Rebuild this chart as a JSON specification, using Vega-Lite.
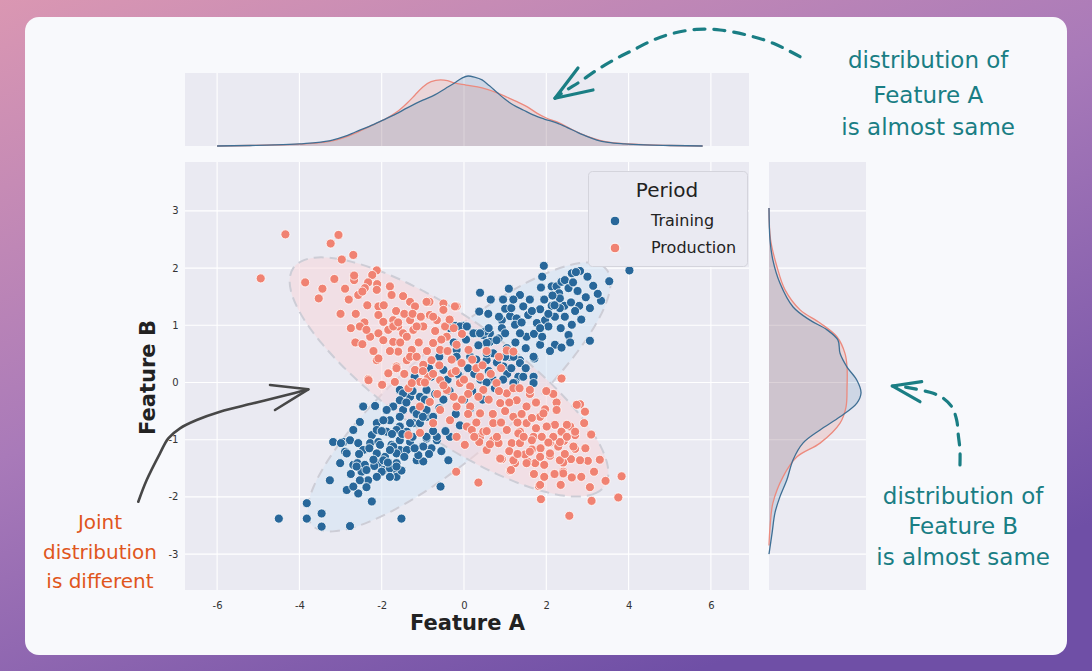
{
"$schema": "https://vega.github.io/schema/vega-lite/v6.json",
"width": 564,
"height": 428,
"autosize": {"type": "none"},
"padding": {"left": 185, "top": 162, "right": 343, "bottom": 81},
"background": "#b07fba",
"config": {"view": {"stroke": null}, "font": "DejaVu Sans", "axis": {"grid": false}},
"datasets": {
"deco": [{"k":"bg","a1":-11.6,"a2":15.6,"b1":-5.3,"b2":6.9},{"k":"card","a1":-10.668,"a2":14.654,"b1":-4.764,"b2":6.39}],
"gx": [{"v":-6},{"v":-4},{"v":-2},{"v":0},{"v":2},{"v":4},{"v":6}],
"gy": [{"v":-3},{"v":-2},{"v":-1},{"v":0},{"v":1},{"v":2},{"v":3}],
"pts": [
{"p":"Training","a":1.94,"b":2.04},{"p":"Training","a":2.82,"b":1.95},{"p":"Training","a":2.62,"b":1.91},{"p":"Training","a":2.72,"b":1.93},{"p":"Training","a":4.02,"b":1.96},{"p":"Training","a":3.53,"b":1.77},{"p":"Training","a":3.14,"b":1.69},{"p":"Training","a":3.33,"b":1.43},{"p":"Training","a":2.96,"b":1.49},{"p":"Training","a":3.06,"b":1.3},
{"p":"Training","a":0.39,"b":1.57},{"p":"Training","a":1.09,"b":1.64},{"p":"Training","a":1.36,"b":1.53},{"p":"Training","a":1.87,"b":1.66},{"p":"Training","a":2.13,"b":1.68},{"p":"Training","a":2.25,"b":1.68},{"p":"Training","a":2.37,"b":1.76},{"p":"Training","a":2.45,"b":1.79},{"p":"Training","a":2.31,"b":1.56},{"p":"Training","a":2.33,"b":1.47},
{"p":"Training","a":2.54,"b":1.65},{"p":"Training","a":2.76,"b":1.6},{"p":"Training","a":2.8,"b":1.34},{"p":"Training","a":2.44,"b":1.34},{"p":"Training","a":2.33,"b":1.3},{"p":"Training","a":2.13,"b":1.34},{"p":"Training","a":1.85,"b":1.28},{"p":"Training","a":1.44,"b":1.33},{"p":"Training","a":1.0,"b":1.29},{"p":"Training","a":0.37,"b":1.24},
{"p":"Training","a":0.59,"b":1.2},{"p":"Training","a":0.92,"b":1.09},{"p":"Training","a":1.12,"b":1.16},{"p":"Training","a":1.28,"b":1.12},{"p":"Training","a":1.56,"b":1.18},{"p":"Training","a":1.77,"b":1.04},{"p":"Training","a":1.97,"b":1.09},{"p":"Training","a":2.05,"b":0.98},{"p":"Training","a":2.21,"b":1.15},{"p":"Training","a":2.62,"b":1.01},
{"p":"Training","a":2.54,"b":0.83},{"p":"Training","a":2.58,"b":0.7},{"p":"Training","a":3.06,"b":0.73},{"p":"Training","a":2.21,"b":0.66},{"p":"Training","a":2.37,"b":0.61},{"p":"Training","a":2.09,"b":0.55},{"p":"Training","a":1.71,"b":0.42},{"p":"Training","a":1.85,"b":0.66},{"p":"Training","a":1.52,"b":0.8},{"p":"Training","a":1.36,"b":0.86},
{"p":"Training","a":1.24,"b":1.01},{"p":"Training","a":0.92,"b":0.95},{"p":"Training","a":0.84,"b":0.77},{"p":"Training","a":0.63,"b":0.86},{"p":"Training","a":0.47,"b":0.83},{"p":"Training","a":0.27,"b":0.86},{"p":"Training","a":-0.02,"b":0.99},{"p":"Training","a":-0.22,"b":0.99},{"p":"Training","a":0.63,"b":0.71},{"p":"Training","a":1.0,"b":0.86},
{"p":"Training","a":1.36,"b":0.39},{"p":"Training","a":1.12,"b":0.45},{"p":"Training","a":1.32,"b":0.1},{"p":"Training","a":1.44,"b":0.1},{"p":"Training","a":1.69,"b":0.1},{"p":"Training","a":1.24,"b":-0.01},{"p":"Training","a":0.71,"b":0.51},{"p":"Training","a":1.69,"b":0.45},{"p":"Training","a":1.2,"b":-0.01},{"p":"Training","a":1.69,"b":-0.01},
{"p":"Training","a":0.79,"b":0.74},{"p":"Training","a":0.51,"b":0.89},{"p":"Training","a":0.23,"b":0.86},{"p":"Training","a":-0.34,"b":0.95},{"p":"Training","a":-0.1,"b":0.98},{"p":"Training","a":-0.18,"b":0.57},{"p":"Training","a":0.55,"b":0.39},{"p":"Training","a":0.88,"b":0.28},{"p":"Training","a":1.04,"b":0.6},{"p":"Training","a":1.2,"b":0.45},
{"p":"Training","a":1.36,"b":0.34},{"p":"Training","a":0.55,"b":0.69},{"p":"Training","a":0.55,"b":0.51},{"p":"Training","a":0.96,"b":0.28},{"p":"Training","a":-0.18,"b":0.45},{"p":"Training","a":-0.5,"b":0.22},{"p":"Training","a":0.07,"b":0.98},{"p":"Training","a":0.39,"b":0.86},{"p":"Training","a":1.6,"b":1.45},{"p":"Training","a":1.95,"b":1.45},
{"p":"Training","a":2.15,"b":1.52},{"p":"Training","a":2.6,"b":1.4},{"p":"Training","a":2.05,"b":1.2},{"p":"Training","a":1.7,"b":0.85},{"p":"Training","a":1.9,"b":0.8},{"p":"Training","a":2.35,"b":0.95},{"p":"Training","a":1.5,"b":0.6},{"p":"Training","a":0.8,"b":0.35},{"p":"Training","a":1.05,"b":0.15},{"p":"Training","a":0.6,"b":0.2},
{"p":"Training","a":0.3,"b":0.4},{"p":"Training","a":0.1,"b":0.25},{"p":"Training","a":0.4,"b":0.05},{"p":"Training","a":-0.1,"b":0.1},{"p":"Training","a":0.2,"b":-0.15},{"p":"Training","a":0.75,"b":-0.1},{"p":"Training","a":1.5,"b":0.25},
{"p":"Training","a":-1.56,"b":-0.13},{"p":"Training","a":-1.31,"b":-0.25},{"p":"Training","a":-1.72,"b":-0.42},{"p":"Training","a":-1.48,"b":-0.48},{"p":"Training","a":-1.07,"b":-0.42},{"p":"Training","a":-0.91,"b":-0.6},{"p":"Training","a":-1.23,"b":-0.71},{"p":"Training","a":-1.56,"b":-0.77},{"p":"Training","a":-1.8,"b":-0.66},{"p":"Training","a":-2.12,"b":-0.71},
{"p":"Training","a":-2.16,"b":-0.41},{"p":"Training","a":-2.45,"b":-0.42},{"p":"Training","a":-1.88,"b":-0.86},{"p":"Training","a":-2.24,"b":-0.92},{"p":"Training","a":-2.69,"b":-0.83},{"p":"Training","a":-2.53,"b":-0.69},{"p":"Training","a":-2.93,"b":-1.04},{"p":"Training","a":-3.18,"b":-1.04},{"p":"Training","a":-2.77,"b":-1.01},{"p":"Training","a":-2.28,"b":-1.06},
{"p":"Training","a":-2.08,"b":-1.04},{"p":"Training","a":-1.76,"b":-1.09},{"p":"Training","a":-1.56,"b":-1.01},{"p":"Training","a":-1.31,"b":-1.04},{"p":"Training","a":-0.91,"b":-0.98},{"p":"Training","a":-0.66,"b":-1.01},{"p":"Training","a":-1.15,"b":-1.36},{"p":"Training","a":-0.99,"b":-1.38},{"p":"Training","a":-0.38,"b":-1.36},{"p":"Training","a":-2.89,"b":-1.21},
{"p":"Training","a":-2.69,"b":-1.44},{"p":"Training","a":-2.49,"b":-1.56},{"p":"Training","a":-2.04,"b":-1.41},{"p":"Training","a":-1.64,"b":-1.53},{"p":"Training","a":-1.96,"b":-1.53},{"p":"Training","a":-2.33,"b":-1.71},{"p":"Training","a":-2.57,"b":-1.94},{"p":"Training","a":-2.85,"b":-1.88},{"p":"Training","a":-3.26,"b":-1.71},{"p":"Training","a":-2.24,"b":-2.08},
{"p":"Training","a":-1.52,"b":-2.38},{"p":"Training","a":-3.82,"b":-2.11},{"p":"Training","a":-3.46,"b":-2.29},{"p":"Training","a":-3.82,"b":-2.38},{"p":"Training","a":-3.46,"b":-2.52},{"p":"Training","a":-2.77,"b":-2.51},{"p":"Training","a":-0.57,"b":-1.82},{"p":"Training","a":-0.34,"b":-0.95},{"p":"Training","a":-2.99,"b":-1.06},{"p":"Training","a":-2.57,"b":-1.06},
{"p":"Training","a":-2.37,"b":-1.83},{"p":"Training","a":-2.75,"b":-1.6},{"p":"Training","a":-2.59,"b":-1.41},{"p":"Training","a":-2.41,"b":-1.44},{"p":"Training","a":-2.18,"b":-1.46},{"p":"Training","a":-2.0,"b":-1.56},{"p":"Training","a":-1.8,"b":-1.5},{"p":"Training","a":-1.64,"b":-1.65},{"p":"Training","a":-1.52,"b":-1.54},{"p":"Training","a":-1.92,"b":-1.3},
{"p":"Training","a":-1.64,"b":-1.41},{"p":"Training","a":-1.56,"b":-1.18},{"p":"Training","a":-1.72,"b":-1.12},{"p":"Training","a":-1.11,"b":-1.27},{"p":"Training","a":-0.79,"b":-1.15},{"p":"Training","a":-4.5,"b":-2.38},{"p":"Training","a":-2.12,"b":-0.83},{"p":"Training","a":-2.04,"b":-1.09},{"p":"Training","a":-1.39,"b":-0.86},{"p":"Training","a":-0.91,"b":-0.13},
{"p":"Training","a":-1.07,"b":-0.25},{"p":"Training","a":-1.48,"b":-0.19},{"p":"Training","a":-1.56,"b":-0.31},{"p":"Training","a":-1.23,"b":-0.48},{"p":"Training","a":-0.91,"b":-0.48},{"p":"Training","a":-0.75,"b":-0.6},{"p":"Training","a":-1.56,"b":-0.6},{"p":"Training","a":-1.88,"b":-0.48},{"p":"Training","a":-1.96,"b":-0.66},{"p":"Training","a":-1.64,"b":-0.83},
{"p":"Training","a":-1.31,"b":-0.71},{"p":"Training","a":-1.07,"b":-0.71},{"p":"Training","a":-0.91,"b":-0.95},{"p":"Training","a":-0.66,"b":-0.95},{"p":"Training","a":-0.99,"b":-1.12},{"p":"Training","a":-1.39,"b":-1.18},{"p":"Training","a":-1.64,"b":-1.24},{"p":"Training","a":-1.8,"b":-1.18},{"p":"Training","a":-2.12,"b":-1.24},{"p":"Training","a":-2.45,"b":-1.18},
{"p":"Training","a":-2.37,"b":-1.53},{"p":"Training","a":-2.12,"b":-1.65},{"p":"Training","a":-1.8,"b":-1.65},{"p":"Training","a":-1.64,"b":-1.47},{"p":"Training","a":-1.96,"b":-1.36},{"p":"Training","a":-2.61,"b":-1.47},{"p":"Training","a":-2.53,"b":-1.71},{"p":"Training","a":-2.69,"b":-1.82},{"p":"Training","a":-3.01,"b":-1.41},{"p":"Training","a":-2.85,"b":-1.24},
{"p":"Training","a":-0.5,"b":-0.3},{"p":"Training","a":-0.2,"b":-0.55},{"p":"Training","a":-0.7,"b":-0.2},{"p":"Training","a":0.0,"b":-0.3},{"p":"Training","a":-0.4,"b":0.05},{"p":"Training","a":-0.8,"b":0.1},{"p":"Training","a":-1.2,"b":0.1},
{"p":"Training","a":-1.4,"b":-0.35},{"p":"Training","a":-1.15,"b":-0.55},{"p":"Training","a":-0.95,"b":-0.3},{"p":"Training","a":-0.6,"b":-0.45},{"p":"Training","a":-0.35,"b":-0.15},{"p":"Training","a":-0.15,"b":0.15},{"p":"Training","a":0.15,"b":0.45},{"p":"Training","a":0.35,"b":0.65},{"p":"Training","a":0.6,"b":0.95},{"p":"Training","a":0.85,"b":1.15},
{"p":"Training","a":1.15,"b":1.3},{"p":"Training","a":1.4,"b":1.05},{"p":"Training","a":1.65,"b":1.25},{"p":"Training","a":1.85,"b":0.95},{"p":"Training","a":2.2,"b":1.35},{"p":"Training","a":2.45,"b":1.15},{"p":"Training","a":2.7,"b":1.25},{"p":"Training","a":1.25,"b":0.7},{"p":"Training","a":1.0,"b":0.45},{"p":"Training","a":0.7,"b":0.05},
{"p":"Training","a":0.45,"b":-0.3},{"p":"Training","a":0.15,"b":-0.45},{"p":"Training","a":-0.1,"b":-0.75},{"p":"Training","a":-0.45,"b":-0.85},{"p":"Training","a":-0.75,"b":-0.85},{"p":"Training","a":-1.0,"b":-0.6},{"p":"Training","a":-1.25,"b":-0.95},{"p":"Training","a":-1.5,"b":-0.9},{"p":"Training","a":-1.75,"b":-0.9},{"p":"Training","a":-2.0,"b":-0.85},
{"p":"Training","a":-2.3,"b":-1.15},{"p":"Training","a":-2.55,"b":-1.25},{"p":"Training","a":-1.45,"b":-1.3},{"p":"Training","a":-1.2,"b":-1.15},{"p":"Training","a":-0.85,"b":-1.25},{"p":"Training","a":-0.55,"b":-1.2},{"p":"Training","a":-2.2,"b":-1.35},{"p":"Training","a":-1.85,"b":-1.4},{"p":"Training","a":-0.25,"b":0.7},{"p":"Training","a":0.05,"b":0.75},
{"p":"Training","a":1.9,"b":1.85},{"p":"Training","a":2.65,"b":1.75},{"p":"Training","a":3.0,"b":1.85},{"p":"Training","a":3.25,"b":1.55},{"p":"Training","a":2.85,"b":1.1},{"p":"Training","a":0.95,"b":1.45},{"p":"Training","a":0.65,"b":1.45},{"p":"Training","a":1.2,"b":1.45},{"p":"Training","a":-0.6,"b":0.45},{"p":"Training","a":-0.85,"b":0.25},
{"p":"Training","a":-1.25,"b":-0.15},{"p":"Training","a":0.25,"b":0.15},{"p":"Training","a":0.55,"b":0.0},{"p":"Training","a":0.95,"b":0.05},{"p":"Training","a":1.15,"b":0.25},
{"p":"Production","a":-4.34,"b":2.59},{"p":"Production","a":-4.94,"b":1.82},{"p":"Production","a":-3.05,"b":2.58},{"p":"Production","a":-3.24,"b":2.43},{"p":"Production","a":-2.97,"b":2.15},{"p":"Production","a":-2.69,"b":2.23},{"p":"Production","a":-3.86,"b":1.75},{"p":"Production","a":-3.44,"b":1.64},{"p":"Production","a":-3.53,"b":1.47},{"p":"Production","a":-3.15,"b":1.81},
{"p":"Production","a":-2.89,"b":1.64},{"p":"Production","a":-2.67,"b":1.79},{"p":"Production","a":-2.67,"b":1.87},{"p":"Production","a":-2.12,"b":1.96},{"p":"Production","a":-2.23,"b":1.88},{"p":"Production","a":-2.33,"b":1.75},{"p":"Production","a":-2.11,"b":1.72},{"p":"Production","a":-2.41,"b":1.65},{"p":"Production","a":-2.57,"b":1.53},{"p":"Production","a":-2.47,"b":1.59},
{"p":"Production","a":-2.12,"b":1.62},{"p":"Production","a":-1.8,"b":1.68},{"p":"Production","a":-1.76,"b":1.53},{"p":"Production","a":-1.48,"b":1.51},{"p":"Production","a":-1.31,"b":1.41},{"p":"Production","a":-0.84,"b":1.41},{"p":"Production","a":-0.5,"b":1.38},{"p":"Production","a":-2.08,"b":1.33},{"p":"Production","a":-2.63,"b":1.2},{"p":"Production","a":-2.42,"b":1.05},
{"p":"Production","a":-2.53,"b":0.98},{"p":"Production","a":-2.08,"b":1.18},{"p":"Production","a":-1.96,"b":1.06},{"p":"Production","a":-1.84,"b":0.92},{"p":"Production","a":-2.28,"b":0.8},{"p":"Production","a":-2.64,"b":0.7},{"p":"Production","a":-2.47,"b":0.67},{"p":"Production","a":-2.08,"b":0.86},{"p":"Production","a":-1.72,"b":1.09},{"p":"Production","a":-1.6,"b":0.98},
{"p":"Production","a":-1.31,"b":1.09},{"p":"Production","a":-1.19,"b":1.33},{"p":"Production","a":-0.83,"b":1.18},{"p":"Production","a":-0.66,"b":1.09},{"p":"Production","a":-0.46,"b":0.98},{"p":"Production","a":-0.99,"b":0.98},{"p":"Production","a":-1.23,"b":0.92},{"p":"Production","a":-1.48,"b":0.86},{"p":"Production","a":-1.72,"b":0.71},{"p":"Production","a":-1.96,"b":0.74},
{"p":"Production","a":-1.6,"b":0.54},{"p":"Production","a":-1.27,"b":0.57},{"p":"Production","a":-1.39,"b":0.39},{"p":"Production","a":-2.12,"b":0.39},{"p":"Production","a":-1.84,"b":0.16},{"p":"Production","a":-1.64,"b":0.28},{"p":"Production","a":-2.33,"b":0.06},{"p":"Production","a":-2.0,"b":-0.04},{"p":"Production","a":-1.68,"b":0.01},{"p":"Production","a":-1.35,"b":-0.1},
{"p":"Production","a":-0.91,"b":1.41},{"p":"Production","a":-0.18,"b":1.33},{"p":"Production","a":-0.75,"b":1.15},{"p":"Production","a":-0.5,"b":1.27},{"p":"Production","a":-1.15,"b":0.98},{"p":"Production","a":-1.39,"b":0.8},{"p":"Production","a":-1.72,"b":0.98},{"p":"Production","a":-2.37,"b":0.92},{"p":"Production","a":-2.08,"b":0.42},{"p":"Production","a":-1.64,"b":0.25},
{"p":"Production","a":-1.31,"b":0.45},{"p":"Production","a":-1.19,"b":0.22},{"p":"Production","a":-0.99,"b":0.31},{"p":"Production","a":-0.79,"b":0.39},{"p":"Production","a":-0.58,"b":0.57},{"p":"Production","a":-0.75,"b":0.69},{"p":"Production","a":-0.42,"b":0.8},{"p":"Production","a":-0.18,"b":0.66},{"p":"Production","a":0.11,"b":0.57},{"p":"Production","a":-0.06,"b":0.34},
{"p":"Production","a":-0.3,"b":0.16},{"p":"Production","a":-0.58,"b":0.04},{"p":"Production","a":-0.87,"b":0.1},{"p":"Production","a":-1.07,"b":0.01},{"p":"Production","a":-1.27,"b":-0.01},{"p":"Production","a":-0.42,"b":-0.13},{"p":"Production","a":-0.1,"b":-0.01},{"p":"Production","a":0.15,"b":-0.07},{"p":"Production","a":0.39,"b":0.1},{"p":"Production","a":0.47,"b":-0.13},
{"p":"Production","a":0.79,"b":-0.01},{"p":"Production","a":1.04,"b":-0.19},{"p":"Production","a":0.88,"b":-0.36},{"p":"Production","a":1.28,"b":-0.31},{"p":"Production","a":1.52,"b":-0.42},{"p":"Production","a":1.2,"b":-0.6},{"p":"Production","a":1.52,"b":-0.71},{"p":"Production","a":1.85,"b":-0.6},{"p":"Production","a":1.04,"b":-0.83},{"p":"Production","a":0.71,"b":-0.71},
{"p":"Production","a":0.39,"b":-0.54},{"p":"Production","a":0.15,"b":-0.42},{"p":"Production","a":-0.18,"b":-0.42},{"p":"Production","a":-0.34,"b":-0.66},{"p":"Production","a":0.07,"b":-0.77},{"p":"Production","a":0.39,"b":-0.95},{"p":"Production","a":0.71,"b":-1.01},{"p":"Production","a":1.36,"b":-0.86},{"p":"Production","a":1.69,"b":-0.95},{"p":"Production","a":-0.58,"b":-0.48},
{"p":"Production","a":-0.83,"b":-0.34},{"p":"Production","a":-1.07,"b":-0.42},{"p":"Production","a":-1.35,"b":-0.92},{"p":"Production","a":-1.07,"b":-0.88},{"p":"Production","a":-0.75,"b":-0.71},{"p":"Production","a":0.55,"b":-1.18},{"p":"Production","a":0.02,"b":-1.09},{"p":"Production","a":2.82,"b":-0.38},{"p":"Production","a":2.94,"b":-0.51},{"p":"Production","a":2.92,"b":-0.71},
{"p":"Production","a":3.09,"b":-0.91},{"p":"Production","a":2.25,"b":-0.35},{"p":"Production","a":1.97,"b":-0.47},{"p":"Production","a":2.21,"b":-0.74},{"p":"Production","a":2.58,"b":-0.77},{"p":"Production","a":2.7,"b":-0.92},{"p":"Production","a":2.37,"b":-0.86},{"p":"Production","a":2.43,"b":-1.02},{"p":"Production","a":2.7,"b":-1.16},{"p":"Production","a":2.6,"b":-1.34},
{"p":"Production","a":2.41,"b":-1.4},{"p":"Production","a":3.01,"b":-1.37},{"p":"Production","a":3.16,"b":-1.56},{"p":"Production","a":3.44,"b":-1.72},{"p":"Production","a":3.83,"b":-1.64},{"p":"Production","a":3.75,"b":-2.01},{"p":"Production","a":3.1,"b":-2.07},{"p":"Production","a":3.06,"b":-1.83},{"p":"Production","a":2.62,"b":-1.66},{"p":"Production","a":2.35,"b":-1.79},
{"p":"Production","a":2.41,"b":-1.56},{"p":"Production","a":2.56,"b":-2.33},{"p":"Production","a":1.87,"b":-2.04},{"p":"Production","a":1.82,"b":-1.81},{"p":"Production","a":2.09,"b":-1.28},{"p":"Production","a":1.95,"b":-1.44},{"p":"Production","a":1.73,"b":-1.41},{"p":"Production","a":1.54,"b":-1.38},{"p":"Production","a":1.48,"b":-1.26},{"p":"Production","a":1.65,"b":-1.17},
{"p":"Production","a":1.86,"b":-1.15},{"p":"Production","a":2.09,"b":-1.05},{"p":"Production","a":2.29,"b":-1.12},{"p":"Production","a":1.24,"b":-1.41},{"p":"Production","a":1.12,"b":-1.54},{"p":"Production","a":0.92,"b":-1.34},{"p":"Production","a":0.35,"b":-1.75},{"p":"Production","a":-0.19,"b":-1.56},{"p":"Production","a":0.84,"b":-1.06},{"p":"Production","a":0.63,"b":-1.08},
{"p":"Production","a":0.37,"b":-1.04},{"p":"Production","a":-0.18,"b":-0.95},{"p":"Production","a":0.19,"b":-0.83},{"p":"Production","a":0.47,"b":-0.86},{"p":"Production","a":1.32,"b":-0.89},{"p":"Production","a":1.65,"b":-1.01},{"p":"Production","a":1.16,"b":-1.06},{"p":"Production","a":1.36,"b":-1.06},{"p":"Production","a":1.89,"b":-0.95},{"p":"Production","a":2.37,"b":0.07},
{"p":"Production","a":2.17,"b":-0.2},{"p":"Production","a":2.74,"b":-0.39},{"p":"Production","a":0.88,"b":-1.33},{"p":"Production","a":1.14,"b":-1.53},{"p":"Production","a":1.85,"b":-1.79},{"p":"Production","a":2.82,"b":-1.36},{"p":"Production","a":2.33,"b":-1.36},{"p":"Production","a":2.41,"b":-1.59},{"p":"Production","a":2.09,"b":-1.24},{"p":"Production","a":1.85,"b":-1.3},
{"p":"Production","a":1.6,"b":-1.21},{"p":"Production","a":1.52,"b":-1.41},{"p":"Production","a":1.2,"b":-1.36},{"p":"Production","a":2.7,"b":-0.86},{"p":"Production","a":2.5,"b":-0.95},{"p":"Production","a":2.66,"b":-1.12},{"p":"Production","a":2.33,"b":-1.04},{"p":"Production","a":2.17,"b":-0.95},{"p":"Production","a":2.01,"b":-0.77},{"p":"Production","a":1.93,"b":-0.54},
{"p":"Production","a":2.25,"b":-0.48},{"p":"Production","a":2.5,"b":-0.74},{"p":"Production","a":0.6,"b":-0.3},{"p":"Production","a":1.0,"b":-0.5},{"p":"Production","a":1.4,"b":-0.55},{"p":"Production","a":0.3,"b":-0.7},{"p":"Production","a":0.9,"b":-0.7},{"p":"Production","a":1.6,"b":-0.2},{"p":"Production","a":1.2,"b":-0.1},{"p":"Production","a":0.7,"b":-0.55},
{"p":"Production","a":0.1,"b":-0.2},{"p":"Production","a":-0.3,"b":0.4},{"p":"Production","a":-0.6,"b":0.3},{"p":"Production","a":-0.4,"b":0.55},{"p":"Production","a":-0.9,"b":0.55},{"p":"Production","a":-0.2,"b":0.2},{"p":"Production","a":0.3,"b":0.25},{"p":"Production","a":-1.1,"b":0.7},{"p":"Production","a":-0.7,"b":0.9},{"p":"Production","a":-1.0,"b":0.2},
{"p":"Production","a":1.65,"b":-0.62},{"p":"Production","a":-0.22,"b":1.33},{"p":"Production","a":1.04,"b":0.56},{"p":"Production","a":1.2,"b":0.54},{"p":"Production","a":1.6,"b":-0.13},{"p":"Production","a":-2.32,"b":0.04},{"p":"Production","a":-1.99,"b":-0.04},
{"p":"Production","a":-1.95,"b":1.35},{"p":"Production","a":-1.65,"b":1.25},{"p":"Production","a":-1.45,"b":1.2},{"p":"Production","a":-1.25,"b":1.2},{"p":"Production","a":-1.05,"b":1.15},{"p":"Production","a":-1.55,"b":0.7},{"p":"Production","a":-1.8,"b":0.55},{"p":"Production","a":-2.2,"b":0.55},{"p":"Production","a":-2.35,"b":1.35},{"p":"Production","a":-2.8,"b":1.45},
{"p":"Production","a":-3.0,"b":1.2},{"p":"Production","a":-2.75,"b":0.95},{"p":"Production","a":-0.55,"b":0.75},{"p":"Production","a":-0.25,"b":0.95},{"p":"Production","a":-0.05,"b":0.85},{"p":"Production","a":0.2,"b":0.4},{"p":"Production","a":0.45,"b":0.3},{"p":"Production","a":0.65,"b":0.15},{"p":"Production","a":0.9,"b":0.25},{"p":"Production","a":1.1,"b":-0.35},
{"p":"Production","a":1.35,"b":-0.1},{"p":"Production","a":1.75,"b":-0.35},{"p":"Production","a":2.0,"b":-0.15},{"p":"Production","a":2.05,"b":-1.05},{"p":"Production","a":1.75,"b":-0.8},{"p":"Production","a":1.45,"b":-0.95},{"p":"Production","a":1.1,"b":-1.2},{"p":"Production","a":0.8,"b":-0.95},{"p":"Production","a":0.55,"b":-0.85},{"p":"Production","a":0.25,"b":-0.95},
{"p":"Production","a":0.1,"b":-0.55},{"p":"Production","a":-0.05,"b":-0.3},{"p":"Production","a":-0.25,"b":-0.25},{"p":"Production","a":-0.5,"b":-0.05},{"p":"Production","a":-0.75,"b":0.15},{"p":"Production","a":-0.95,"b":0.0},{"p":"Production","a":-1.15,"b":0.45},{"p":"Production","a":-1.45,"b":0.15},{"p":"Production","a":-0.35,"b":1.1},{"p":"Production","a":-1.6,"b":1.05},
{"p":"Production","a":0.55,"b":0.55},{"p":"Production","a":0.85,"b":0.45},{"p":"Production","a":2.85,"b":-1.65},{"p":"Production","a":3.3,"b":-1.35},{"p":"Production","a":2.95,"b":-1.15},{"p":"Production","a":2.2,"b":-1.6},{"p":"Production","a":1.95,"b":-1.65},{"p":"Production","a":1.7,"b":-1.6},{"p":"Production","a":1.3,"b":-1.25},{"p":"Production","a":2.45,"b":-1.25},
{"p":"Production","a":-0.65,"b":-0.2},{"p":"Production","a":0.35,"b":-0.25},{"p":"Production","a":0.85,"b":-0.15},{"p":"Production","a":1.3,"b":-0.7},{"p":"Production","a":0.0,"b":0.05}
],
"ell": [
{"p":"Training","i":0,"a":3.456,"b":1.983},{"p":"Training","i":1,"a":3.553,"b":1.823},{"p":"Training","i":2,"a":3.54,"b":1.6},{"p":"Training","i":3,"a":3.415,"b":1.32},{"p":"Training","i":4,"a":3.182,"b":0.993},{"p":"Training","i":5,"a":2.85,"b":0.628},{"p":"Training","i":6,"a":2.427,"b":0.236},{"p":"Training","i":7,"a":1.926,"b":-0.171},{"p":"Training","i":8,"a":1.363,"b":-0.58},{"p":"Training","i":9,"a":0.756,"b":-0.979},
{"p":"Training","i":10,"a":0.121,"b":-1.356},{"p":"Training","i":11,"a":-0.521,"b":-1.7},{"p":"Training","i":12,"a":-1.151,"b":-2.0},{"p":"Training","i":13,"a":-1.749,"b":-2.247},{"p":"Training","i":14,"a":-2.298,"b":-2.433},{"p":"Training","i":15,"a":-2.781,"b":-2.553},{"p":"Training","i":16,"a":-3.183,"b":-2.603},{"p":"Training","i":17,"a":-3.492,"b":-2.581},{"p":"Training","i":18,"a":-3.699,"b":-2.49},{"p":"Training","i":19,"a":-3.796,"b":-2.33},
{"p":"Training","i":20,"a":-3.783,"b":-2.107},{"p":"Training","i":21,"a":-3.658,"b":-1.827},{"p":"Training","i":22,"a":-3.425,"b":-1.5},{"p":"Training","i":23,"a":-3.093,"b":-1.135},{"p":"Training","i":24,"a":-2.67,"b":-0.743},{"p":"Training","i":25,"a":-2.169,"b":-0.336},{"p":"Training","i":26,"a":-1.606,"b":0.073},{"p":"Training","i":27,"a":-0.999,"b":0.472},{"p":"Training","i":28,"a":-0.364,"b":0.849},{"p":"Training","i":29,"a":0.278,"b":1.193},
{"p":"Training","i":30,"a":0.908,"b":1.493},{"p":"Training","i":31,"a":1.506,"b":1.74},{"p":"Training","i":32,"a":2.055,"b":1.926},{"p":"Training","i":33,"a":2.538,"b":2.046},{"p":"Training","i":34,"a":2.94,"b":2.096},{"p":"Training","i":35,"a":3.249,"b":2.074},
{"p":"Production","i":0,"a":3.417,"b":-1.811},{"p":"Production","i":1,"a":3.214,"b":-1.931},{"p":"Production","i":2,"a":2.903,"b":-1.989},{"p":"Production","i":3,"a":2.492,"b":-1.985},{"p":"Production","i":4,"a":1.994,"b":-1.916},{"p":"Production","i":5,"a":1.426,"b":-1.787},{"p":"Production","i":6,"a":0.802,"b":-1.601},{"p":"Production","i":7,"a":0.143,"b":-1.363},{"p":"Production","i":8,"a":-0.531,"b":-1.08},{"p":"Production","i":9,"a":-1.201,"b":-0.762},
{"p":"Production","i":10,"a":-1.844,"b":-0.418},{"p":"Production","i":11,"a":-2.443,"b":-0.058},{"p":"Production","i":12,"a":-2.979,"b":0.306},{"p":"Production","i":13,"a":-3.435,"b":0.665},{"p":"Production","i":14,"a":-3.798,"b":1.005},{"p":"Production","i":15,"a":-4.057,"b":1.319},{"p":"Production","i":16,"a":-4.204,"b":1.595},{"p":"Production","i":17,"a":-4.233,"b":1.825},{"p":"Production","i":18,"a":-4.146,"b":2.003},{"p":"Production","i":19,"a":-3.943,"b":2.123},
{"p":"Production","i":20,"a":-3.632,"b":2.182},{"p":"Production","i":21,"a":-3.221,"b":2.177},{"p":"Production","i":22,"a":-2.723,"b":2.109},{"p":"Production","i":23,"a":-2.155,"b":1.98},{"p":"Production","i":24,"a":-1.531,"b":1.793},{"p":"Production","i":25,"a":-0.872,"b":1.555},{"p":"Production","i":26,"a":-0.198,"b":1.273},{"p":"Production","i":27,"a":0.472,"b":0.955},{"p":"Production","i":28,"a":1.115,"b":0.61},{"p":"Production","i":29,"a":1.714,"b":0.25},
{"p":"Production","i":30,"a":2.25,"b":-0.114},{"p":"Production","i":31,"a":2.706,"b":-0.472},{"p":"Production","i":32,"a":3.069,"b":-0.813},{"p":"Production","i":33,"a":3.328,"b":-1.126},{"p":"Production","i":34,"a":3.475,"b":-1.402},{"p":"Production","i":35,"a":3.504,"b":-1.633}
],
"kdeA": [
{"p":"Training","a":-6.0,"d":0.0},{"p":"Training","a":-5.2,"d":0.002},{"p":"Training","a":-4.6,"d":0.004},{"p":"Training","a":-4.0,"d":0.008},{"p":"Training","a":-3.6,"d":0.013},{"p":"Training","a":-3.2,"d":0.023},{"p":"Training","a":-2.9,"d":0.037},{"p":"Training","a":-2.64,"d":0.054},{"p":"Training","a":-2.3,"d":0.076},{"p":"Training","a":-1.97,"d":0.1},
{"p":"Training","a":-1.65,"d":0.124},{"p":"Training","a":-1.38,"d":0.147},{"p":"Training","a":-1.0,"d":0.177},{"p":"Training","a":-0.71,"d":0.197},{"p":"Training","a":-0.45,"d":0.222},{"p":"Training","a":-0.23,"d":0.243},{"p":"Training","a":-0.05,"d":0.262},{"p":"Training","a":0.1,"d":0.27},{"p":"Training","a":0.25,"d":0.266},{"p":"Training","a":0.44,"d":0.255},
{"p":"Training","a":0.62,"d":0.232},{"p":"Training","a":0.82,"d":0.204},{"p":"Training","a":1.0,"d":0.18},{"p":"Training","a":1.2,"d":0.158},{"p":"Training","a":1.45,"d":0.138},{"p":"Training","a":1.68,"d":0.12},{"p":"Training","a":1.95,"d":0.104},{"p":"Training","a":2.25,"d":0.089},{"p":"Training","a":2.5,"d":0.072},{"p":"Training","a":2.74,"d":0.054},
{"p":"Training","a":3.0,"d":0.036},{"p":"Training","a":3.23,"d":0.023},{"p":"Training","a":3.5,"d":0.014},{"p":"Training","a":3.9,"d":0.008},{"p":"Training","a":4.4,"d":0.004},{"p":"Training","a":5.0,"d":0.002},{"p":"Training","a":5.8,"d":0.0},
{"p":"Production","a":-6.0,"d":0.0},{"p":"Production","a":-5.2,"d":0.002},{"p":"Production","a":-4.6,"d":0.004},{"p":"Production","a":-4.0,"d":0.007},{"p":"Production","a":-3.5,"d":0.013},{"p":"Production","a":-3.1,"d":0.024},{"p":"Production","a":-2.7,"d":0.046},{"p":"Production","a":-2.3,"d":0.075},{"p":"Production","a":-1.87,"d":0.108},{"p":"Production","a":-1.6,"d":0.135},
{"p":"Production","a":-1.38,"d":0.166},{"p":"Production","a":-1.2,"d":0.195},{"p":"Production","a":-1.0,"d":0.228},{"p":"Production","a":-0.8,"d":0.248},{"p":"Production","a":-0.57,"d":0.255},{"p":"Production","a":-0.4,"d":0.252},{"p":"Production","a":-0.24,"d":0.243},{"p":"Production","a":0.05,"d":0.235},{"p":"Production","a":0.44,"d":0.224},{"p":"Production","a":0.82,"d":0.204},
{"p":"Production","a":1.05,"d":0.188},{"p":"Production","a":1.3,"d":0.17},{"p":"Production","a":1.55,"d":0.15},{"p":"Production","a":1.77,"d":0.127},{"p":"Production","a":2.0,"d":0.108},{"p":"Production","a":2.26,"d":0.093},{"p":"Production","a":2.5,"d":0.074},{"p":"Production","a":2.74,"d":0.055},{"p":"Production","a":3.0,"d":0.037},{"p":"Production","a":3.3,"d":0.022},
{"p":"Production","a":3.6,"d":0.013},{"p":"Production","a":4.0,"d":0.008},{"p":"Production","a":4.5,"d":0.004},{"p":"Production","a":5.0,"d":0.002},{"p":"Production","a":5.8,"d":0.0}
],
"kdeB": [
{"p":"Training","b":3.05,"d":0.0},{"p":"Training","b":2.49,"d":0.004},{"p":"Training","b":2.14,"d":0.015},{"p":"Training","b":1.74,"d":0.042},{"p":"Training","b":1.32,"d":0.093},{"p":"Training","b":1.09,"d":0.158},{"p":"Training","b":0.92,"d":0.224},{"p":"Training","b":0.74,"d":0.266},{"p":"Training","b":0.51,"d":0.274},{"p":"Training","b":0.27,"d":0.301},
{"p":"Training","b":0.04,"d":0.339},{"p":"Training","b":-0.18,"d":0.355},{"p":"Training","b":-0.36,"d":0.339},{"p":"Training","b":-0.6,"d":0.274},{"p":"Training","b":-0.83,"d":0.197},{"p":"Training","b":-1.06,"d":0.131},{"p":"Training","b":-1.35,"d":0.093},{"p":"Training","b":-1.7,"d":0.069},{"p":"Training","b":-2.0,"d":0.042},{"p":"Training","b":-2.28,"d":0.023},
{"p":"Training","b":-2.63,"d":0.012},{"p":"Training","b":-3.0,"d":0.0},
{"p":"Production","b":3.05,"d":0.0},{"p":"Production","b":2.5,"d":0.006},{"p":"Production","b":2.02,"d":0.031},{"p":"Production","b":1.62,"d":0.062},{"p":"Production","b":1.27,"d":0.12},{"p":"Production","b":1.04,"d":0.197},{"p":"Production","b":0.8,"d":0.262},{"p":"Production","b":0.51,"d":0.293},{"p":"Production","b":0.27,"d":0.301},{"p":"Production","b":-0.08,"d":0.301},
{"p":"Production","b":-0.43,"d":0.297},{"p":"Production","b":-0.71,"d":0.274},{"p":"Production","b":-1.06,"d":0.197},{"p":"Production","b":-1.3,"d":0.108},{"p":"Production","b":-1.65,"d":0.054},{"p":"Production","b":-2.11,"d":0.015},{"p":"Production","b":-2.53,"d":0.004},{"p":"Production","b":-2.85,"d":0.0}
],
"paths": [
{"id":"ts","i":0,"a":8.165,"b":5.696},{"id":"ts","i":1,"a":7.516,"b":5.93},{"id":"ts","i":2,"a":6.87,"b":6.075},{"id":"ts","i":3,"a":6.221,"b":6.163},{"id":"ts","i":4,"a":5.655,"b":6.175},{"id":"ts","i":5,"a":5.086,"b":6.105},{"id":"ts","i":6,"a":4.6,"b":5.988},{"id":"ts","i":7,"a":4.114,"b":5.813},{"id":"ts","i":8,"a":3.711,"b":5.668},{"id":"ts","i":9,"a":3.225,"b":5.463},{"id":"ts","i":10,"a":2.819,"b":5.259},{"id":"ts","i":11,"a":2.454,"b":5.096},{"id":"ts","i":12,"a":2.211,"b":4.969},
{"id":"th","i":0,"a":2.77,"b":5.498},{"id":"th","i":1,"a":2.211,"b":4.969},{"id":"th","i":2,"a":3.135,"b":5.114},
{"id":"rs","i":0,"a":12.053,"b":-1.442},{"id":"rs","i":1,"a":12.053,"b":-1.18},{"id":"rs","i":2,"a":12.012,"b":-0.918},{"id":"rs","i":3,"a":11.973,"b":-0.656},{"id":"rs","i":4,"a":11.852,"b":-0.423},{"id":"rs","i":5,"a":11.648,"b":-0.276},{"id":"rs","i":6,"a":11.405,"b":-0.189},{"id":"rs","i":7,"a":11.081,"b":-0.131},{"id":"rs","i":8,"a":10.758,"b":-0.084},{"id":"rs","i":9,"a":10.408,"b":-0.061},
{"id":"rh","i":0,"a":11.123,"b":0.014},{"id":"rh","i":1,"a":10.408,"b":-0.061},{"id":"rh","i":2,"a":11.081,"b":-0.336},
{"id":"ls","i":0,"a":-7.915,"b":-2.084},{"id":"ls","i":1,"a":-7.711,"b":-1.705},{"id":"ls","i":2,"a":-7.388,"b":-1.238},{"id":"ls","i":3,"a":-7.186,"b":-0.976},{"id":"ls","i":4,"a":-6.902,"b":-0.801},{"id":"ls","i":5,"a":-6.496,"b":-0.656},{"id":"ls","i":6,"a":-5.929,"b":-0.51},{"id":"ls","i":7,"a":-5.12,"b":-0.364},{"id":"ls","i":8,"a":-4.309,"b":-0.219},{"id":"ls","i":9,"a":-3.784,"b":-0.119},
{"id":"lh","i":0,"a":-4.714,"b":-0.044},{"id":"lh","i":1,"a":-3.784,"b":-0.119},{"id":"lh","i":2,"a":-4.593,"b":-0.481}
],
"notes": [
{"k":"teal","t":"distribution of","a":11.28,"b":5.626},{"k":"teal","t":"Feature A","a":11.28,"b":5.009},{"k":"teal","t":"is almost same","a":11.28,"b":4.449},
{"k":"teal","t":"distribution of","a":12.13,"b":-2.0},{"k":"teal","t":"Feature B","a":12.13,"b":-2.532},{"k":"teal","t":"is almost same","a":12.13,"b":-3.073},
{"k":"orange","t":"Joint","a":-8.846,"b":-2.456},{"k":"orange","t":"distribution","a":-8.846,"b":-2.981},{"k":"orange","t":"is different","a":-8.846,"b":-3.488}
]
},
"layer": [
{
"data": {"name": "deco"},
"layer": [
{"transform": [{"filter": "datum.k == 'bg'"}],
 "mark": {"type": "rect", "clip": false, "fill": {"gradient": "linear", "x1": 0, "y1": 0, "x2": 0.6, "y2": 1, "stops": [{"offset": 0, "color": "#dc98b2"}, {"offset": 0.5, "color": "#a97ab9"}, {"offset": 1, "color": "#6f4fa6"}]}},
 "encoding": {"x": {"field": "a1", "type": "quantitative", "scale": {"domain": [-6.78, 6.926], "nice": false, "zero": false}, "axis": null}, "x2": {"field": "a2"}, "y": {"field": "b1", "type": "quantitative", "scale": {"domain": [-3.628, 3.855], "nice": false, "zero": false}, "axis": null}, "y2": {"field": "b2"}}},
{"transform": [{"filter": "datum.k == 'card'"}],
 "mark": {"type": "rect", "clip": false, "fill": "#f8f9fc", "cornerRadius": 14},
 "encoding": {"x": {"field": "a1", "type": "quantitative", "scale": {"domain": [-6.78, 6.926], "nice": false, "zero": false}, "axis": null}, "x2": {"field": "a2"}, "y": {"field": "b1", "type": "quantitative", "scale": {"domain": [-3.628, 3.855], "nice": false, "zero": false}, "axis": null}, "y2": {"field": "b2"}}}
]
},
{
"layer": [
{"data": {"values": [{}]}, "mark": {"type": "rect", "fill": "#eaeaf2"},
 "encoding": {"x": {"value": 0}, "x2": {"value": "width"}, "y": {"value": 0}, "y2": {"value": "height"}}},
{"data": {"name": "gx"}, "mark": {"type": "rule", "stroke": "#ffffff", "strokeWidth": 1.1},
 "encoding": {"x": {"field": "v", "type": "quantitative", "scale": {"domain": [-6.78, 6.926], "nice": false, "zero": false}}, "y": {"value": 0}, "y2": {"value": "height"}}},
{"data": {"name": "gy"}, "mark": {"type": "rule", "stroke": "#ffffff", "strokeWidth": 1.1},
 "encoding": {"y": {"field": "v", "type": "quantitative", "scale": {"domain": [-3.628, 3.855], "nice": false, "zero": false}}, "x": {"value": 0}, "x2": {"value": "width"}}},
{"data": {"name": "ell"}, "transform": [{"filter": "datum.p == 'Training'"}],
 "mark": {"type": "line", "interpolate": "cardinal-closed", "fill": "#d3e3f4", "fillOpacity": 0.55, "stroke": "#cdcdd6", "strokeWidth": 2, "strokeDash": [10, 6], "clip": false},
 "encoding": {"x": {"field": "a", "type": "quantitative", "scale": {"domain": [-6.78, 6.926], "nice": false, "zero": false}}, "y": {"field": "b", "type": "quantitative", "scale": {"domain": [-3.628, 3.855], "nice": false, "zero": false}}, "order": {"field": "i", "type": "quantitative"}}},
{"data": {"name": "ell"}, "transform": [{"filter": "datum.p == 'Production'"}],
 "mark": {"type": "line", "interpolate": "cardinal-closed", "fill": "#f5d6da", "fillOpacity": 0.55, "stroke": "#cdcdd6", "strokeWidth": 2, "strokeDash": [10, 6], "clip": false},
 "encoding": {"x": {"field": "a", "type": "quantitative", "scale": {"domain": [-6.78, 6.926], "nice": false, "zero": false}}, "y": {"field": "b", "type": "quantitative", "scale": {"domain": [-3.628, 3.855], "nice": false, "zero": false}}, "order": {"field": "i", "type": "quantitative"}}},
{"data": {"name": "pts"},
 "mark": {"type": "point", "filled": true, "size": 82, "stroke": "#ffffff", "strokeWidth": 0.8, "opacity": 1, "clip": false},
 "encoding": {
  "x": {"field": "a", "type": "quantitative", "scale": {"domain": [-6.78, 6.926], "nice": false, "zero": false},
        "axis": {"title": "Feature A", "values": [-6, -4, -2, 0, 2, 4, 6], "labelExpr": "'' + datum.value", "grid": false, "domain": false, "ticks": false, "labelPadding": 10, "labelFontSize": 10, "labelColor": "#333333", "labelFont": "DejaVu Sans", "titleFont": "DejaVu Sans", "titleFontSize": 21, "titleFontWeight": "bold", "titleColor": "#222222", "titleY": 33, "titleBaseline": "middle", "zindex": 2}},
  "y": {"field": "b", "type": "quantitative", "scale": {"domain": [-3.628, 3.855], "nice": false, "zero": false},
        "axis": {"title": "Feature B", "values": [-3, -2, -1, 0, 1, 2, 3], "labelExpr": "'' + datum.value", "grid": false, "domain": false, "ticks": false, "labelPadding": 7, "labelFontSize": 10, "labelColor": "#333333", "labelFont": "DejaVu Sans", "titleFont": "DejaVu Sans", "titleFontSize": 21, "titleFontWeight": "bold", "titleColor": "#222222", "titleX": -37, "titleY": 215, "titleBaseline": "middle", "zindex": 2}},
  "color": {"field": "p", "type": "nominal", "scale": {"domain": ["Training", "Production"], "range": ["#28679a", "#f08272"]},
        "legend": {"title": "Period", "orient": "none", "legendX": 403, "legendY": 9, "direction": "vertical", "fillColor": "#eaeaf2", "strokeColor": "#d4d4dc", "cornerRadius": 4, "padding": 10, "titleAnchor": "middle", "titleFont": "DejaVu Sans", "titleFontSize": 20, "titleFontWeight": "normal", "titleColor": "#222222", "titlePadding": 12, "labelFont": "DejaVu Sans", "labelFontSize": 16, "labelColor": "#222222", "labelOffset": 28, "symbolOffset": 9, "symbolType": "circle", "symbolSize": 95, "symbolStrokeColor": "#ffffff", "symbolStrokeWidth": 1, "rowPadding": 11, "zindex": 2}}
 }}
]
},
{
"layer": [
{"data": {"values": [{}]}, "mark": {"type": "rect", "fill": "#eaeaf2", "clip": false},
 "encoding": {"x": {"value": 0}, "x2": {"value": "width"}, "y": {"datum": 0, "type": "quantitative", "scale": {"domain": [-1.7123, -0.0617], "nice": false, "zero": false}, "axis": null}, "y2": {"datum": 0.2815}}},
{"data": {"name": "gx"}, "mark": {"type": "rule", "stroke": "#ffffff", "strokeWidth": 1.1, "clip": false},
 "encoding": {"x": {"field": "v", "type": "quantitative", "scale": {"domain": [-6.78, 6.926], "nice": false, "zero": false}, "axis": null}, "y": {"datum": 0, "type": "quantitative", "scale": {"domain": [-1.7123, -0.0617], "nice": false, "zero": false}, "axis": null}, "y2": {"datum": 0.2815}}},
{"data": {"name": "kdeA"}, "transform": [{"filter": "datum.p == 'Production'"}],
 "mark": {"type": "area", "interpolate": "monotone", "color": "#f08272", "opacity": 0.2, "clip": false},
 "encoding": {"x": {"field": "a", "type": "quantitative", "scale": {"domain": [-6.78, 6.926], "nice": false, "zero": false}, "axis": null}, "y": {"field": "d", "type": "quantitative", "scale": {"domain": [-1.7123, -0.0617], "nice": false, "zero": false}, "axis": null}, "y2": {"datum": 0}}},
{"data": {"name": "kdeA"}, "transform": [{"filter": "datum.p == 'Training'"}],
 "mark": {"type": "area", "interpolate": "monotone", "color": "#28679a", "opacity": 0.15, "clip": false},
 "encoding": {"x": {"field": "a", "type": "quantitative", "scale": {"domain": [-6.78, 6.926], "nice": false, "zero": false}, "axis": null}, "y": {"field": "d", "type": "quantitative", "scale": {"domain": [-1.7123, -0.0617], "nice": false, "zero": false}, "axis": null}, "y2": {"datum": 0}}},
{"data": {"name": "kdeA"}, "transform": [{"filter": "datum.p == 'Production'"}],
 "mark": {"type": "line", "interpolate": "monotone", "color": "#ec8a7e", "strokeWidth": 1.3, "clip": false},
 "encoding": {"x": {"field": "a", "type": "quantitative", "scale": {"domain": [-6.78, 6.926], "nice": false, "zero": false}, "axis": null}, "y": {"field": "d", "type": "quantitative", "scale": {"domain": [-1.7123, -0.0617], "nice": false, "zero": false}, "axis": null}}},
{"data": {"name": "kdeA"}, "transform": [{"filter": "datum.p == 'Training'"}],
 "mark": {"type": "line", "interpolate": "monotone", "color": "#3f6f94", "strokeWidth": 1.3, "clip": false},
 "encoding": {"x": {"field": "a", "type": "quantitative", "scale": {"domain": [-6.78, 6.926], "nice": false, "zero": false}, "axis": null}, "y": {"field": "d", "type": "quantitative", "scale": {"domain": [-1.7123, -0.0617], "nice": false, "zero": false}, "axis": null}}}
]
},
{
"layer": [
{"data": {"values": [{}]}, "mark": {"type": "rect", "fill": "#eaeaf2", "clip": false},
 "encoding": {"x": {"datum": 0, "type": "quantitative", "scale": {"domain": [-2.2522, -0.0771], "nice": false, "zero": false}, "axis": null}, "x2": {"datum": 0.374}, "y": {"value": 0}, "y2": {"value": "height"}}},
{"data": {"name": "gy"}, "mark": {"type": "rule", "stroke": "#ffffff", "strokeWidth": 1.1, "clip": false},
 "encoding": {"y": {"field": "v", "type": "quantitative", "scale": {"domain": [-3.628, 3.855], "nice": false, "zero": false}, "axis": null}, "x": {"datum": 0, "type": "quantitative", "scale": {"domain": [-2.2522, -0.0771], "nice": false, "zero": false}, "axis": null}, "x2": {"datum": 0.374}}},
{"data": {"name": "kdeB"}, "transform": [{"filter": "datum.p == 'Production'"}],
 "mark": {"type": "area", "orient": "horizontal", "interpolate": "catmull-rom", "color": "#f08272", "opacity": 0.2, "clip": false},
 "encoding": {"x": {"field": "d", "type": "quantitative", "scale": {"domain": [-2.2522, -0.0771], "nice": false, "zero": false}, "axis": null}, "x2": {"datum": 0}, "y": {"field": "b", "type": "quantitative", "scale": {"domain": [-3.628, 3.855], "nice": false, "zero": false}, "axis": null}}},
{"data": {"name": "kdeB"}, "transform": [{"filter": "datum.p == 'Training'"}],
 "mark": {"type": "area", "orient": "horizontal", "interpolate": "catmull-rom", "color": "#28679a", "opacity": 0.15, "clip": false},
 "encoding": {"x": {"field": "d", "type": "quantitative", "scale": {"domain": [-2.2522, -0.0771], "nice": false, "zero": false}, "axis": null}, "x2": {"datum": 0}, "y": {"field": "b", "type": "quantitative", "scale": {"domain": [-3.628, 3.855], "nice": false, "zero": false}, "axis": null}}},
{"data": {"name": "kdeB"}, "transform": [{"filter": "datum.p == 'Production'"}],
 "mark": {"type": "line", "interpolate": "catmull-rom", "color": "#ec8a7e", "strokeWidth": 1.3, "clip": false},
 "encoding": {"x": {"field": "d", "type": "quantitative", "scale": {"domain": [-2.2522, -0.0771], "nice": false, "zero": false}, "axis": null}, "y": {"field": "b", "type": "quantitative", "scale": {"domain": [-3.628, 3.855], "nice": false, "zero": false}, "axis": null}, "order": {"field": "b", "type": "quantitative"}}},
{"data": {"name": "kdeB"}, "transform": [{"filter": "datum.p == 'Training'"}],
 "mark": {"type": "line", "interpolate": "catmull-rom", "color": "#3f6f94", "strokeWidth": 1.3, "clip": false},
 "encoding": {"x": {"field": "d", "type": "quantitative", "scale": {"domain": [-2.2522, -0.0771], "nice": false, "zero": false}, "axis": null}, "y": {"field": "b", "type": "quantitative", "scale": {"domain": [-3.628, 3.855], "nice": false, "zero": false}, "axis": null}, "order": {"field": "b", "type": "quantitative"}}}
]
},
{
"layer": [
{"data": {"name": "paths"}, "transform": [{"filter": "datum.id == 'ts' || datum.id == 'rs'"}],
 "mark": {"type": "line", "interpolate": "catmull-rom", "color": "#1a7e84", "strokeWidth": 3.2, "strokeDash": [11, 9], "strokeCap": "round", "clip": false},
 "encoding": {"x": {"field": "a", "type": "quantitative", "scale": {"domain": [-6.78, 6.926], "nice": false, "zero": false}, "axis": null}, "y": {"field": "b", "type": "quantitative", "scale": {"domain": [-3.628, 3.855], "nice": false, "zero": false}, "axis": null}, "detail": {"field": "id"}, "order": {"field": "i", "type": "quantitative"}}},
{"data": {"name": "paths"}, "transform": [{"filter": "datum.id == 'th' || datum.id == 'rh'"}],
 "mark": {"type": "line", "color": "#1a7e84", "strokeWidth": 3.2, "strokeCap": "round", "strokeJoin": "round", "clip": false},
 "encoding": {"x": {"field": "a", "type": "quantitative", "scale": {"domain": [-6.78, 6.926], "nice": false, "zero": false}, "axis": null}, "y": {"field": "b", "type": "quantitative", "scale": {"domain": [-3.628, 3.855], "nice": false, "zero": false}, "axis": null}, "detail": {"field": "id"}, "order": {"field": "i", "type": "quantitative"}}},
{"data": {"name": "paths"}, "transform": [{"filter": "datum.id == 'ls'"}],
 "mark": {"type": "line", "interpolate": "catmull-rom", "color": "#474747", "strokeWidth": 2.6, "strokeCap": "round", "clip": false},
 "encoding": {"x": {"field": "a", "type": "quantitative", "scale": {"domain": [-6.78, 6.926], "nice": false, "zero": false}, "axis": null}, "y": {"field": "b", "type": "quantitative", "scale": {"domain": [-3.628, 3.855], "nice": false, "zero": false}, "axis": null}, "order": {"field": "i", "type": "quantitative"}}},
{"data": {"name": "paths"}, "transform": [{"filter": "datum.id == 'lh'"}],
 "mark": {"type": "line", "color": "#474747", "strokeWidth": 2.6, "strokeCap": "round", "strokeJoin": "round", "clip": false},
 "encoding": {"x": {"field": "a", "type": "quantitative", "scale": {"domain": [-6.78, 6.926], "nice": false, "zero": false}, "axis": null}, "y": {"field": "b", "type": "quantitative", "scale": {"domain": [-3.628, 3.855], "nice": false, "zero": false}, "axis": null}, "order": {"field": "i", "type": "quantitative"}}},
{"data": {"name": "notes"}, "transform": [{"filter": "datum.k == 'teal'"}],
 "mark": {"type": "text", "font": "DejaVu Sans", "fontSize": 23, "color": "#1a7e84", "align": "center", "baseline": "middle", "clip": false},
 "encoding": {"x": {"field": "a", "type": "quantitative", "scale": {"domain": [-6.78, 6.926], "nice": false, "zero": false}, "axis": null}, "y": {"field": "b", "type": "quantitative", "scale": {"domain": [-3.628, 3.855], "nice": false, "zero": false}, "axis": null}, "text": {"field": "t"}}},
{"data": {"name": "notes"}, "transform": [{"filter": "datum.k == 'orange'"}],
 "mark": {"type": "text", "font": "DejaVu Sans", "fontSize": 20, "color": "#e0561c", "align": "center", "baseline": "middle", "clip": false},
 "encoding": {"x": {"field": "a", "type": "quantitative", "scale": {"domain": [-6.78, 6.926], "nice": false, "zero": false}, "axis": null}, "y": {"field": "b", "type": "quantitative", "scale": {"domain": [-3.628, 3.855], "nice": false, "zero": false}, "axis": null}, "text": {"field": "t"}}}
]
}
],
"resolve": {"scale": {"x": "independent", "y": "independent"}}
}
